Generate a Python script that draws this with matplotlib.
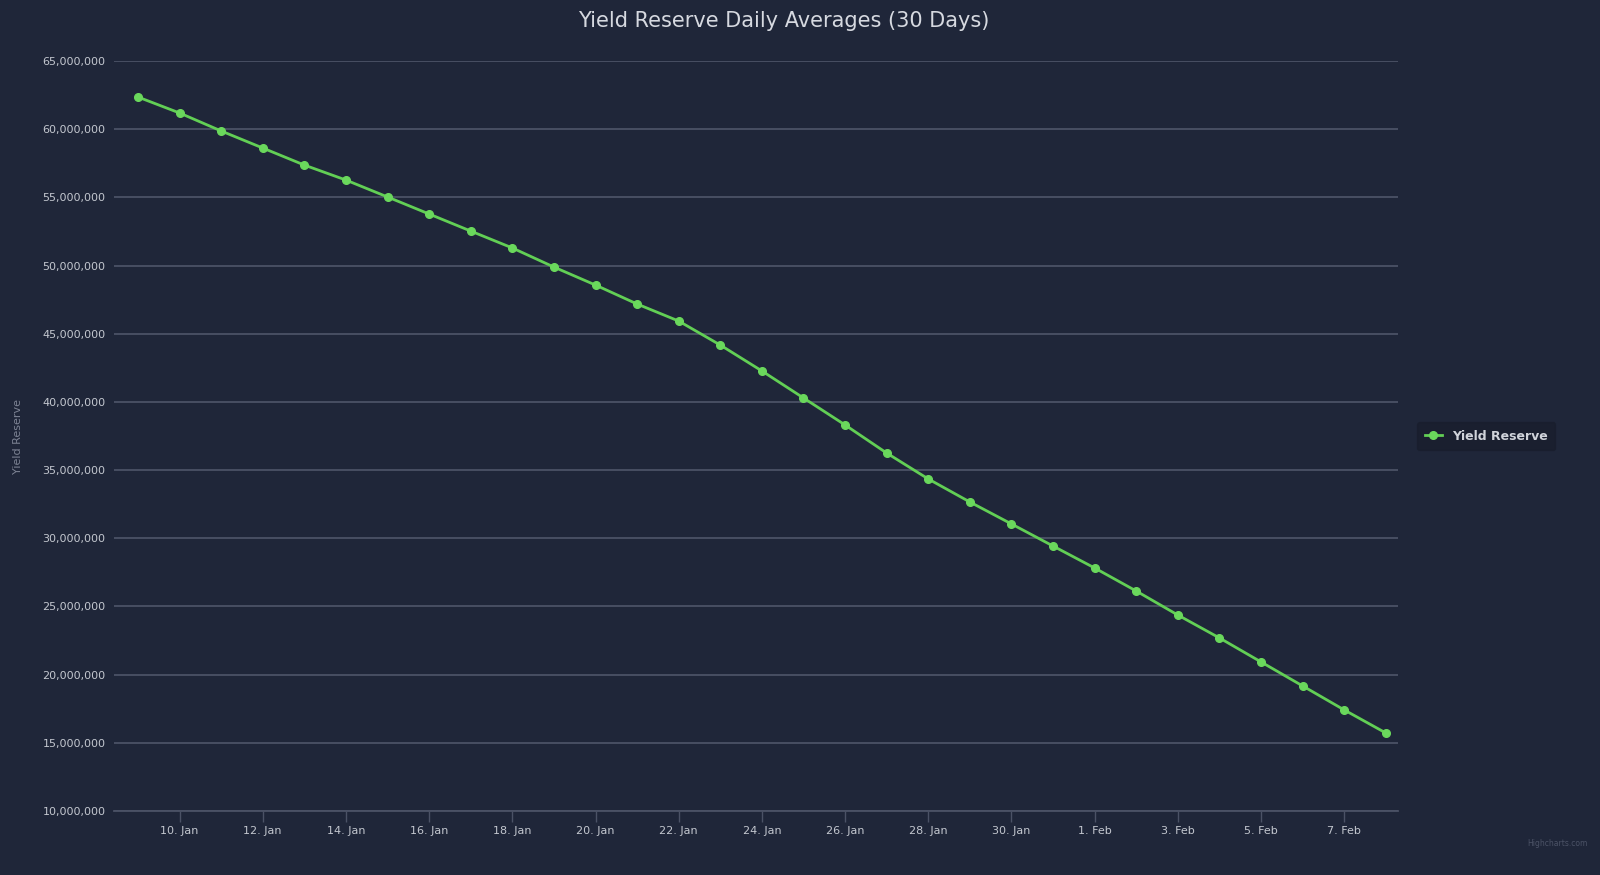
import matplotlib
matplotlib.use("Agg")
import matplotlib.pyplot as plt
import matplotlib.dates as mdates
import matplotlib.ticker as mticker
import numpy as np
import pandas as pd

# daily averages, 9 Jan - 8 Feb
dates = pd.date_range("2022-01-09", "2022-02-08", freq="D")
yield_reserve = [
    62.36, 61.19, 59.87, 58.62, 57.37, 56.27, 55.03, 53.78, 52.53, 51.29,
    49.89, 48.57, 47.18, 45.93, 44.17, 42.27, 40.29, 38.31, 36.25, 34.35,
    32.66, 31.05, 29.43, 27.82, 26.13, 24.37, 22.69, 20.93, 19.17, 17.41,
    15.72,
]
yield_reserve = np.array(yield_reserve) * 1e6
y_ticks = np.arange(10e6, 65e6 + 1, 5e6)

bg = "#1f2639"
grid_col = "#4b5266"
text_col = "#c3c7cf"
green = "#62cf55"

fig = plt.figure(figsize=(16, 8.75), dpi=100, facecolor=bg)
ax = fig.add_axes([0.07125, 0.07314, 0.8025, 0.85714])
ax.set_facecolor(bg)

ax.plot(dates, yield_reserve, color=green, lw=2, marker="o", markersize=5.5,
        markerfacecolor="#6ad85c", markeredgecolor="#6ad85c", label="Yield Reserve",
        zorder=3)

ax.set_ylim(10e6, 65e6)
ax.set_yticks(y_ticks)
ax.yaxis.set_major_formatter(mticker.FuncFormatter(lambda v, p: f"{int(v):,}"))
ax.grid(axis="y", color=grid_col, lw=1.3)
ax.set_axisbelow(True)

ax.set_xlim(dates[0] - pd.Timedelta(hours=13.8), dates[-1] + pd.Timedelta(hours=7))
ax.xaxis.set_major_locator(mdates.DayLocator(bymonthday=[10, 12, 14, 16, 18, 20, 22, 24, 26, 28, 30, 1, 3, 5, 7]))
ax.xaxis.set_major_formatter(mticker.FuncFormatter(
    lambda v, p: f"{mdates.num2date(v).day}. {mdates.num2date(v).strftime('%b')}"))

for s in ["top", "right", "left"]:
    ax.spines[s].set_visible(False)
ax.spines["bottom"].set_color(grid_col)
ax.spines["bottom"].set_linewidth(1.3)

ax.tick_params(axis="y", length=0, pad=6, labelsize=8, labelcolor=text_col)
ax.tick_params(axis="x", length=8, width=1, color=grid_col, pad=3,
               labelsize=8, labelcolor=text_col)

ax.set_ylabel("Yield Reserve", color="#7d8394", fontsize=8, labelpad=14)
fig.suptitle("Yield Reserve Daily Averages (30 Days)", color="#d6d9e0",
             fontsize=15, y=0.987, x=0.49)

leg = ax.legend(loc="center left", bbox_to_anchor=(1.01, 0.5), frameon=True,
                fontsize=9, handlelength=1.4, borderpad=0.6)
leg.get_frame().set_facecolor("#191e2d")
leg.get_frame().set_edgecolor("#191e2d")
for t in leg.get_texts():
    t.set_color("#d0d3da")
    t.set_fontweight("bold")

fig.text(0.992, 0.033, "Highcharts.com", color="#4b5266", fontsize=5.5, ha="right")

fig.savefig("out.png", facecolor=bg)
